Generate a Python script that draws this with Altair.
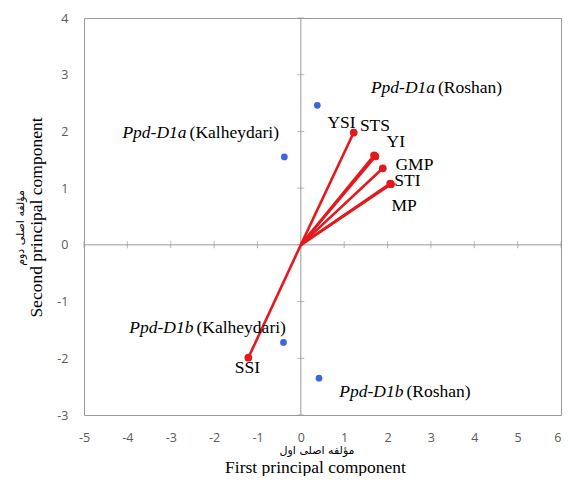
import altair as alt
import pandas as pd

# Genotype scores (blue points)
geno_x = [0.38, -0.38, -0.40, 0.42]
geno_y = [2.46, 1.55, -1.72, -2.35]

# Genotype labels: italic allele + normal location, anchored at the junction
glab_allele = ["Ppd-D1a", "Ppd-D1a", "Ppd-D1b", "Ppd-D1b"]
glab_site = ["(Roshan)", "(Kalheydari)", "(Kalheydari)", "(Roshan)"]
glab_x = [3.13, -2.60, -2.44, 2.40]
glab_y = [2.77, 1.98, -1.46, -2.59]

# Index vectors (red)
idx_names = ["YSI", "STS", "YI", "GMP", "STI", "MP", "SSI"]
idx_x = [1.22, 1.69, 1.72, 1.89, 2.08, 2.06, -1.21]
idx_y = [1.98, 1.58, 1.56, 1.35, 1.07, 1.08, -1.99]
idx_lab_x = [0.94, 1.71, 2.19, 2.62, 2.46, 2.38, -1.23]
idx_lab_y = [2.15, 2.10, 1.81, 1.41, 1.13, 0.69, -2.18]

x_ticks = list(range(-5, 7))
y_ticks = list(range(-3, 5))

W, H = 477, 397
RED = "#E3191E"
BLUE = "#3B66DD"
GRAY = "#9A9A9A"
SERIF = "Liberation Serif"
FS = 17.5

xs = alt.Scale(domain=[-5, 6], nice=False, zero=False)
ys = alt.Scale(domain=[-3, 4], nice=False, zero=False)

geno = pd.DataFrame({"x": geno_x, "y": geno_y})
glab = pd.DataFrame({"x": glab_x, "y": glab_y, "a": glab_allele, "s": glab_site})
vec = pd.DataFrame({"x0": 0.0, "y0": 0.0, "x": idx_x, "y": idx_y, "n": idx_names})
vlab = pd.DataFrame({"x": idx_lab_x, "y": idx_lab_y, "n": idx_names})
xt = pd.DataFrame({"x": x_ticks, "y": 0})
yt = pd.DataFrame({"x": 0, "y": y_ticks})

xaxis = alt.Axis(values=x_ticks, grid=False, domain=False, ticks=False,
                 labelExpr="'' + datum.value",
                 labelAlign={"condition": {"test": "datum.value == 6", "value": "right"},
                             "value": "center"},
                 labelPadding=16, labelFontSize=12.5, labelColor="#595959",
                 labelFont="Open Sans", title="First principal component",
                 titleFont=SERIF, titleFontSize=FS, titleFontWeight="normal",
                 titleColor="black", titleBaseline="middle", titleX=231, titleY=52)
yaxis = alt.Axis(values=y_ticks, grid=False, domain=False, ticks=False,
                 labelExpr="'' + datum.value",
                 labelPadding=16, labelFontSize=12.5, labelColor="#595959",
                 labelFont="Open Sans", title="Second principal component",
                 titleFont=SERIF, titleFontSize=FS, titleFontWeight="normal",
                 titleColor="black", titleBaseline="middle", titleX=-48, titleY=199)

base_x = alt.X("x:Q", scale=xs, axis=xaxis)
base_y = alt.Y("y:Q", scale=ys, axis=yaxis)

zero_v = alt.Chart(pd.DataFrame({"x": [0]})).mark_rule(color=GRAY, strokeWidth=1).encode(
    x=alt.X("x:Q", scale=xs, axis=xaxis))
zero_h = alt.Chart(pd.DataFrame({"y": [0]})).mark_rule(color=GRAY, strokeWidth=1).encode(
    y=alt.Y("y:Q", scale=ys, axis=yaxis))

xtick = alt.Chart(xt).mark_tick(orient="vertical", color=GRAY, size=7, thickness=1).encode(
    x=base_x, y=base_y)
ytick = alt.Chart(yt).mark_tick(orient="horizontal", color=GRAY, size=7, thickness=1).encode(
    x=base_x, y=base_y)

pts = alt.Chart(geno).mark_circle(color=BLUE, size=45, opacity=1).encode(x=base_x, y=base_y)

g_a = alt.Chart(glab).mark_text(font=SERIF, fontSize=FS, fontStyle="italic", align="right",
                                baseline="middle", dx=-1.5, color="black").encode(
    x=base_x, y=base_y, text="a:N")
g_s = alt.Chart(glab).mark_text(font=SERIF, fontSize=FS, fontStyle="normal", align="left",
                                baseline="middle", dx=1.5, color="black").encode(
    x=base_x, y=base_y, text="s:N")

lines = alt.Chart(vec).mark_rule(color=RED, strokeWidth=2.6).encode(
    x=base_x, y=base_y, x2="x0:Q", y2="y0:Q")
ends = alt.Chart(vec).mark_circle(color=RED, size=60, opacity=1).encode(x=base_x, y=base_y)
vtxt = alt.Chart(vlab).mark_text(font=SERIF, fontSize=FS, align="center",
                                 baseline="middle", color="black").encode(
    x=base_x, y=base_y, text="n:N")

fa_x = alt.Chart(pd.DataFrame({"t": ["مؤلفه اصلی اول"]})).mark_text(
    font="DejaVu Sans", fontSize=11, align="center", baseline="middle", color="black").encode(
    x=alt.value(233), y=alt.value(433), text="t:N")
fa_y = alt.Chart(pd.DataFrame({"t": ["مؤلفه اصلی دوم"]})).mark_text(
    font="DejaVu Sans", fontSize=11, align="center", baseline="middle", angle=270,
    color="black").encode(
    x=alt.value(-63), y=alt.value(210), text="t:N")

chart = alt.layer(zero_v, zero_h, xtick, ytick, lines, ends, pts, g_a, g_s, vtxt, fa_x, fa_y).properties(
    width=W, height=H,
    autosize=alt.AutoSizeParams(type="none"),
    padding={"left": 76, "top": 10, "right": 1, "bottom": 61},
).configure_view(stroke=GRAY, strokeWidth=1)

chart.save("out.html", embed_options={"renderer": "svg", "actions": False})
